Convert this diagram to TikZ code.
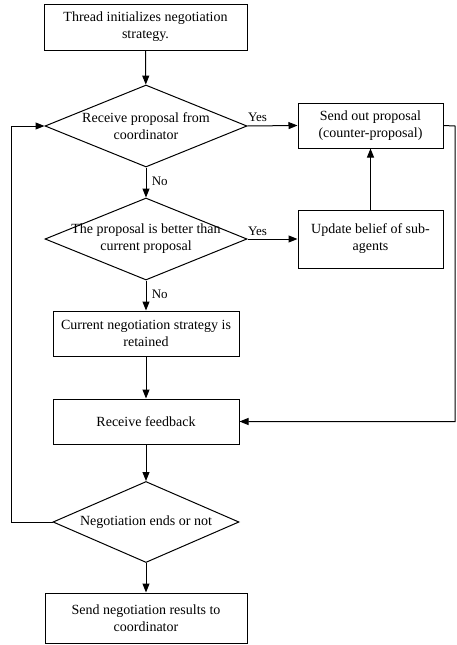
\documentclass[tikz,border=0pt]{standalone}
\usepackage{fontspec}
\setmainfont{Liberation Serif}
\usetikzlibrary{shapes.geometric,arrows.meta,shadows}
\begin{document}
\begin{tikzpicture}[x=1pt,y=-1pt,
  font=\fontsize{14}{17}\selectfont,
  line width=1pt,
  arr/.style={-{Triangle[length=9pt,width=7pt]}},
  box/.style={draw, rectangle, align=center, inner sep=0pt, fill=white,
    drop shadow={shadow xshift=1pt, shadow yshift=-1pt, fill=blue!20!gray!40}},
  dia/.style={draw, diamond, inner sep=0pt, fill=white},
  lab/.style={font=\fontsize{13}{15}\selectfont}
]
\useasboundingbox (0,0) rectangle (456,645);
\node[box, minimum width=203pt, minimum height=46pt] (init) at (145.5,27) {Thread initializes negotiation\\strategy.};
\node[dia, minimum width=202pt, minimum height=82pt,
  label={[align=center]center:Receive proposal from\\coordinator}] (d1) at (146,126) {};
\node[box, minimum width=145pt, minimum height=45pt] (send) at (370.5,125.5) {Send out proposal\\(counter-proposal)};
\node[dia, minimum width=202pt, minimum height=82pt,
  label={[align=center]center:The proposal is better than\\current proposal}] (d2) at (146,239) {};
\node[box, minimum width=145pt, minimum height=58pt] (upd) at (370.5,239) {Update belief of sub-\\agents};
\node[box, minimum width=186pt, minimum height=45pt] (cur) at (146,333.5) {Current negotiation strategy is\\retained};
\node[box, minimum width=186pt, minimum height=45pt] (fb) at (146,421.5) {Receive feedback};
\node[dia, minimum width=186pt, minimum height=81pt,
  label={[align=center]center:Negotiation ends or not}] (d3) at (146,522) {};
\node[box, minimum width=202pt, minimum height=50pt] (res) at (146,618) {Send negotiation results to\\coordinator};

\coordinate (lc1) at (11,522);
\coordinate (lc2) at (11,126);
\coordinate (rc1) at (455,126);
\coordinate (rc2) at (455,421.5);

\draw[arr] (init) -- (d1);
\draw[arr] (d1) -- node[lab, right, xshift=2pt, yshift=1pt] {No} (d2);
\draw[arr] (d2) -- node[lab, right, xshift=2pt, yshift=1pt] {No} (cur);
\draw[arr] (cur) -- (fb);
\draw[arr] (fb) -- (d3);
\draw[arr] (d3) -- (res);
\draw[arr] (d1.east) -- node[lab, above, pos=0.2] {Yes} (send.west);
\draw[arr] (d2.east) -- node[lab, above, pos=0.2] {Yes} (upd.west);
\draw[arr] (upd) -- (send);
\draw[arr] (d3.west) -- (lc1) -- (lc2) -- (d1.west);
\draw[arr] (send.east) -- (rc1) -- (rc2) -- (fb.east);
\end{tikzpicture}
\end{document}
